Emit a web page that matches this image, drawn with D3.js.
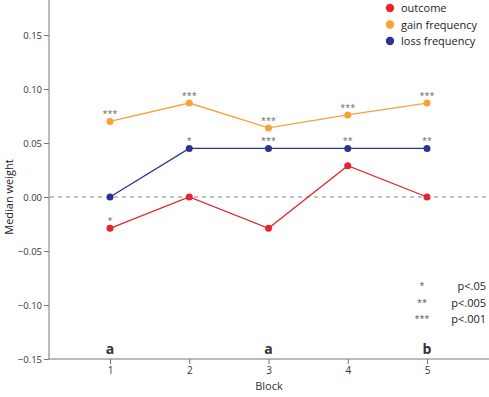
<!DOCTYPE html>
<html><head><meta charset="utf-8">
<script src="https://cdn.jsdelivr.net/npm/d3@7"></script>
<style>body{margin:0;background:#fff}svg{display:block}text{font-family:"Open Sans",sans-serif}</style>
</head><body><svg id="c" width="489" height="397"></svg>
<script>
const blocks = [1, 2, 3, 4, 5];
const outcome = [-0.029, 0.0, -0.029, 0.029, 0.0];
const gainFreq = [0.070, 0.087, 0.064, 0.076, 0.087];
const lossFreq = [0.0, 0.045, 0.045, 0.045, 0.045];
const outcomeSig = ["*", "", "", "", ""];
const gainSig = ["***", "***", "***", "***", "***"];
const lossSig = ["", "*", "***", "**", "**"];
const yTicks = [0.15, 0.10, 0.05, 0.00, -0.05, -0.10, -0.15];
const groupLetters = ["a", "", "a", "", "b"];
const seriesNames = ["outcome", "gain frequency", "loss frequency"];
const colors = ["#e9222b", "#f7a235", "#2e3192"];
const sigKeys = ["*", "**", "***"];
const sigLabels = ["p<.05", "p<.005", "p<.001"];

const svg = d3.select("#c");
const x = d3.scaleLinear().domain([1, 5]).range([110, 427]);
const y = d3.scaleLinear().domain([-0.15, 0.15]).range([359, 35]);
const axisColor = "#777";

// y axis
const ya = svg.append("g").attr("transform", "translate(49,0)")
  .call(d3.axisLeft(y).tickValues(yTicks).tickFormat(d3.format(".2f")).tickSize(5).tickSizeOuter(0));
ya.select(".domain").remove();
ya.selectAll("line").attr("stroke", axisColor);
ya.selectAll("text").attr("font-size", 9.5).attr("fill", "#333").attr("x", -7);
svg.append("line").attr("x1", 49).attr("x2", 49).attr("y1", 0).attr("y2", 359).attr("stroke", axisColor);

// x axis
const xa = svg.append("g").attr("transform", "translate(0,359)")
  .call(d3.axisBottom(x).tickValues(blocks).tickFormat(d3.format("d")).tickSize(5).tickSizeOuter(0));
xa.select(".domain").remove();
xa.selectAll("line").attr("stroke", axisColor);
xa.selectAll("text").attr("font-size", 10).attr("fill", "#333").attr("y", 8);
svg.append("line").attr("x1", 49).attr("x2", 489).attr("y1", 359).attr("y2", 359).attr("stroke", axisColor);

svg.append("text").attr("x", 269).attr("y", 390).attr("text-anchor", "middle")
  .attr("font-size", 11).attr("fill", "#333").text("Block");
svg.append("text").attr("transform", "translate(13,197) rotate(-90)").attr("text-anchor", "middle")
  .attr("font-size", 11).attr("fill", "#222").text("Median weight");

// zero line
svg.append("line").attr("x1", 50).attr("x2", 489).attr("y1", y(0)).attr("y2", y(0))
  .attr("stroke", "#888").attr("stroke-width", 1.2).attr("stroke-dasharray", "4,4");

const series = [outcome, gainFreq, lossFreq];
const sigs = [outcomeSig, gainSig, lossSig];
const line = d3.line().x((d, i) => x(blocks[i])).y(d => y(d));
series.forEach((s, k) => {
  svg.append("path").datum(s).attr("d", line).attr("fill", "none")
    .attr("stroke", colors[k]).attr("stroke-width", 1.3);
});
series.forEach((s, k) => {
  svg.selectAll(null).data(s).enter().append("circle")
    .attr("cx", (d, i) => x(blocks[i])).attr("cy", d => y(d)).attr("r", 3.5).attr("fill", colors[k]);
  svg.selectAll(null).data(s).enter().append("text")
    .attr("x", (d, i) => x(blocks[i])).attr("y", d => y(d) - 4)
    .attr("text-anchor", "middle").attr("font-size", 9).attr("fill", "#666")
    .text((d, i) => sigs[k][i]);
});

// group letters
svg.selectAll(null).data(groupLetters).enter().append("text")
  .attr("x", (d, i) => x(blocks[i])).attr("y", 354).attr("text-anchor", "middle")
  .attr("font-size", 14).attr("font-weight", "bold").attr("fill", "#333").text(d => d);

// legend
seriesNames.forEach((n, k) => {
  svg.append("circle").attr("cx", 390).attr("cy", 8 + k * 16.5).attr("r", 4.2).attr("fill", colors[k]);
  svg.append("text").attr("x", 401).attr("y", 12 + k * 16.5).attr("font-size", 11).attr("fill", "#222").text(n);
});
sigKeys.forEach((s, k) => {
  svg.append("text").attr("x", 422).attr("y", 289 + k * 16.5).attr("font-size", 9).attr("fill", "#555")
    .attr("text-anchor", "middle").text(s);
  svg.append("text").attr("x", 486).attr("y", 290 + k * 16.5).attr("font-size", 11).attr("fill", "#222")
    .attr("text-anchor", "end").text(sigLabels[k]);
});
</script></body></html>
